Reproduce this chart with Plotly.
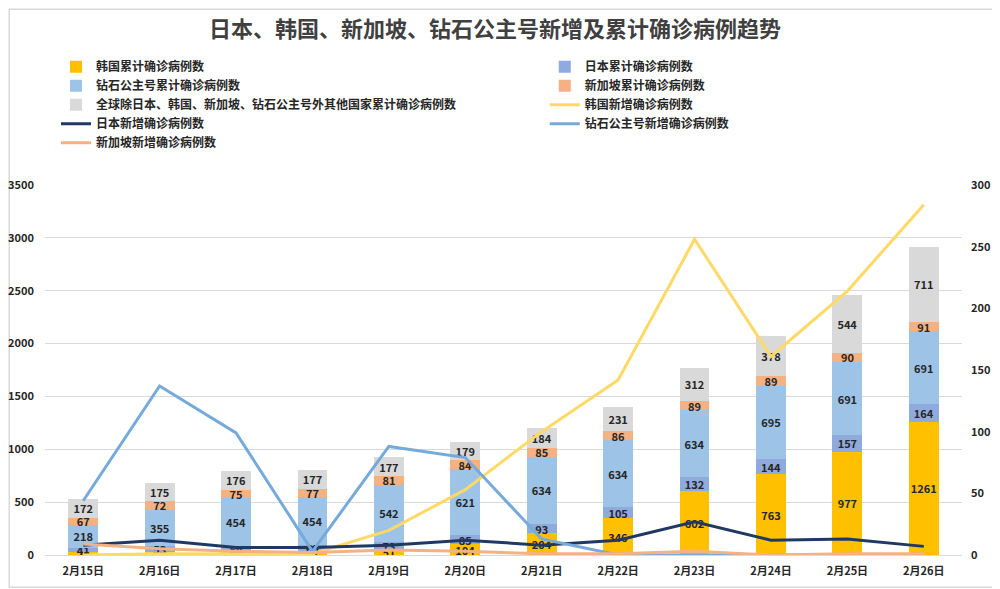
import plotly.graph_objects as go

dates = ["2月15日", "2月16日", "2月17日", "2月18日", "2月19日", "2月20日",
         "2月21日", "2月22日", "2月23日", "2月24日", "2月25日", "2月26日"]

korea_cum = [28, 29, 30, 31, 51, 104, 204, 346, 602, 763, 977, 1261]
japan_cum = [41, 53, 59, 65, 73, 85, 93, 105, 132, 144, 157, 164]
dp_cum = [218, 355, 454, 454, 542, 621, 634, 634, 634, 695, 691, 691]
sg_cum = [67, 72, 75, 77, 81, 84, 85, 86, 89, 89, 90, 91]
other_cum = [172, 175, 176, 177, 177, 179, 184, 231, 312, 378, 544, 711]

korea_new = [0, 1, 1, 1, 20, 53, 100, 142, 256, 161, 214, 284]
japan_new = [8, 12, 6, 6, 8, 12, 8, 12, 27, 12, 13, 7]
dp_new = [44, 137, 99, 3, 88, 79, 13, 0, 0, 0, 0, 0]
sg_new = [9, 5, 3, 2, 4, 3, 1, 1, 3, 0, 1, 1]

FONT = "Noto Sans CJK SC"
TXT = "#262626"

fig = go.Figure()

bars = [
    ("韩国累计确诊病例数", korea_cum, "#FFC000", "legend"),
    ("日本累计确诊病例数", japan_cum, "#8FAADC", "legend2"),
    ("钻石公主号累计确诊病例数", dp_cum, "#9DC3E6", "legend"),
    ("新加坡累计确诊病例数", sg_cum, "#F4B183", "legend2"),
    ("全球除日本、韩国、新加坡、钻石公主号外其他国家累计确诊病例数", other_cum, "#D9D9D9", "legend"),
]
for name, vals, col, lg in bars:
    fig.add_trace(go.Bar(
        x=dates, y=vals, name=name, marker=dict(color=col, line=dict(width=0)),
        text=[str(v) for v in vals], textposition="inside", insidetextanchor="middle",
        constraintext="none", textangle=0,
        textfont=dict(family=FONT, size=11, color=TXT, weight="bold"),
        yaxis="y", legend=lg,
    ))

lines = [
    ("韩国新增确诊病例数", korea_new, "#FFD966", "legend2"),
    ("日本新增确诊病例数", japan_new, "#203864", "legend"),
    ("钻石公主号新增确诊病例数", dp_new, "#75AADB", "legend2"),
    ("新加坡新增确诊病例数", sg_new, "#F4B183", "legend"),
]
for name, vals, col, lg in lines:
    fig.add_trace(go.Scatter(
        x=dates, y=vals, name=name, mode="lines",
        line=dict(color=col, width=3), yaxis="y2", legend=lg,
    ))

legfont = dict(family=FONT, size=12, color=TXT, weight="bold")
tickf = dict(family=FONT, size=11, weight="bold")
fig.update_layout(
    width=1000, height=589,
    barmode="stack", bargap=0.61,
    plot_bgcolor="white", paper_bgcolor="white",
    margin=dict(l=37, r=46, t=177, b=42, autoexpand=False),
    font=dict(family=FONT, color=TXT, size=11),
    uniformtext=dict(minsize=11, mode="show"),
    title=dict(text="<b>日本、韩国、新加坡、钻石公主号新增及累计确诊病例趋势</b>",
               x=0.487, xanchor="center", y=0.963, yanchor="middle",
               font=dict(family=FONT, size=22, color="#404040")),
    legend=dict(orientation="v", x=0.012, y=1.359, xanchor="left", yanchor="top",
                traceorder="normal", font=legfont, itemwidth=30, tracegroupgap=0,
                bgcolor="rgba(0,0,0,0)"),
    legend2=dict(orientation="v", x=0.545, y=1.359, xanchor="left", yanchor="top",
                 traceorder="normal", font=legfont, itemwidth=30, tracegroupgap=0,
                 bgcolor="rgba(0,0,0,0)"),
    xaxis=dict(tickfont=tickf, showgrid=False, ticklabelstandoff=6, automargin=False,
               showline=True, linecolor="#D9D9D9", ticks=""),
    yaxis=dict(range=[0, 3500], dtick=500, showgrid=True, gridcolor="#D9D9D9",
               zeroline=False, ticks="", tickfont=tickf, ticklabelstandoff=10,
               automargin=False),
    yaxis2=dict(range=[0, 300], dtick=50, overlaying="y", side="right", showgrid=False,
                zeroline=False, ticks="", tickfont=tickf, ticklabelstandoff=8,
                automargin=False),
    shapes=[dict(type="rect", xref="paper", yref="paper", x0=-0.039, x1=1.040,
                 y0=-0.087, y1=1.475, line=dict(color="#D9D9D9", width=1.5),
                 fillcolor="rgba(0,0,0,0)", layer="below")],
)

fig.write_html("out.html")
